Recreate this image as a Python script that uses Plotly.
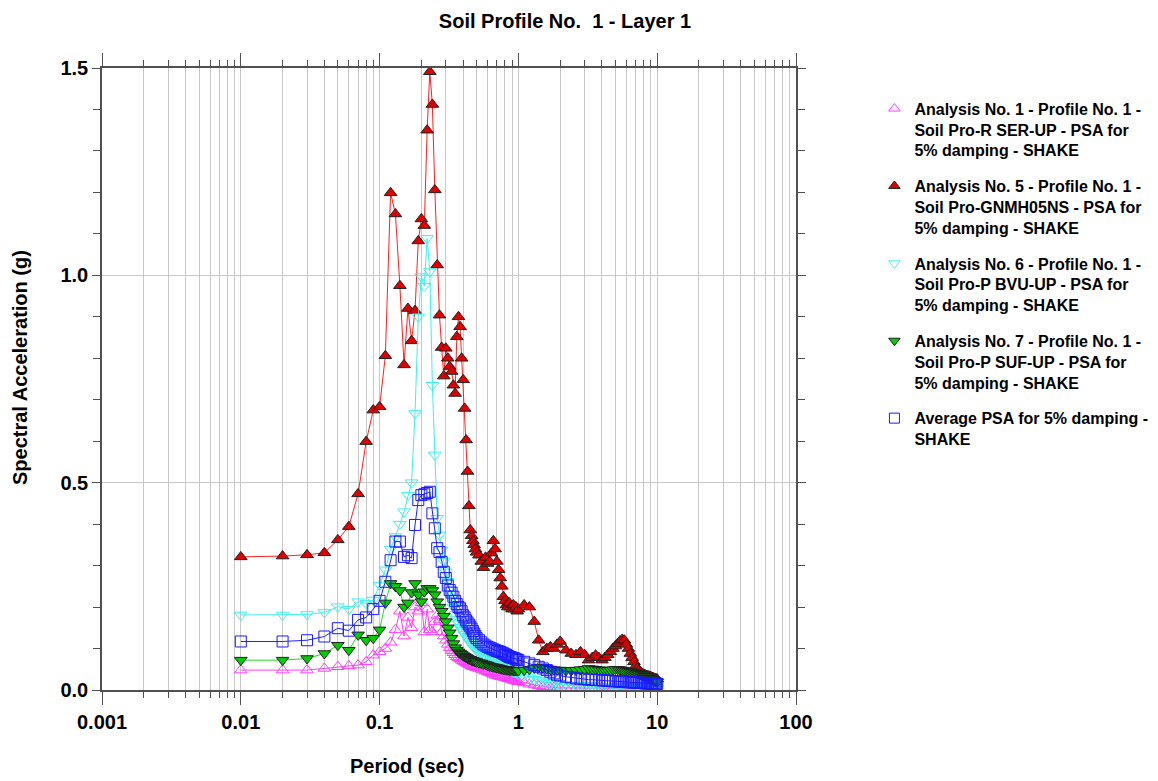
import plotly.graph_objects as go

# ---------------- data ----------------
periods = [
    0.01, 0.02, 0.03, 0.04, 0.05, 0.06, 0.07, 0.08, 0.09, 0.10,
    0.11, 0.12, 0.13, 0.14, 0.15, 0.16, 0.17, 0.18, 0.19, 0.20,
    0.21, 0.22, 0.23, 0.24, 0.25, 0.26, 0.27, 0.28, 0.29, 0.30,
    0.31, 0.32, 0.33, 0.34, 0.35, 0.36, 0.37, 0.38, 0.39, 0.40,
    0.41, 0.42, 0.43, 0.44, 0.45, 0.46, 0.47, 0.48, 0.49, 0.50,
    0.52, 0.54, 0.56, 0.58, 0.60, 0.62, 0.64, 0.66, 0.68, 0.70,
    0.72, 0.74, 0.76, 0.78, 0.80, 0.82, 0.84, 0.86, 0.88, 0.90,
    0.92, 0.94, 0.96, 0.98, 1.00,
    1.1, 1.2, 1.3, 1.4, 1.5, 1.6, 1.7, 1.8, 1.9, 2.0,
    2.2, 2.4, 2.6, 2.8, 3.0, 3.2, 3.4, 3.6, 3.8, 4.0,
    4.2, 4.4, 4.6, 4.8, 5.0, 5.2, 5.4, 5.6, 5.8, 6.0,
    6.2, 6.4, 6.6, 6.8, 7.0, 7.2, 7.4, 7.6, 7.8, 8.0,
    8.2, 8.4, 8.6, 8.8, 9.0, 9.2, 9.4, 9.6, 9.8, 10.0,
]

psa_analysis1 = [
    0.048, 0.048, 0.048, 0.052, 0.056, 0.058, 0.060, 0.068, 0.084, 0.092,
    0.100, 0.115, 0.145, 0.190, 0.130, 0.175, 0.150, 0.200, 0.190, 0.210,
    0.140, 0.195, 0.145, 0.140, 0.165, 0.180, 0.170, 0.140, 0.130, 0.120,
    0.110, 0.102, 0.095, 0.090, 0.085, 0.080, 0.078, 0.075, 0.072, 0.070,
    0.068, 0.066, 0.064, 0.062, 0.060, 0.058, 0.057, 0.056, 0.055, 0.054,
    0.052, 0.050, 0.048, 0.046, 0.044, 0.042, 0.040, 0.038, 0.036, 0.035,
    0.034, 0.033, 0.032, 0.031, 0.030, 0.029, 0.028, 0.027, 0.026, 0.025,
    0.024, 0.023, 0.022, 0.021, 0.020,
    0.017, 0.014, 0.012, 0.010, 0.008, 0.007, 0.006, 0.006, 0.005, 0.005,
    0.005, 0.005, 0.005, 0.005, 0.005, 0.005, 0.005, 0.005, 0.005, 0.005,
    0.004, 0.004, 0.004, 0.004, 0.004, 0.004, 0.004, 0.004, 0.004, 0.004,
    0.004, 0.004, 0.004, 0.004, 0.004, 0.003, 0.003, 0.003, 0.003, 0.003,
    0.003, 0.003, 0.003, 0.003, 0.003, 0.003, 0.003, 0.003, 0.003, 0.003,
]

psa_analysis5 = [
    0.321, 0.323, 0.326, 0.331, 0.362, 0.394, 0.473, 0.599, 0.675, 0.683,
    0.806, 1.199, 1.148, 0.975, 0.784, 0.920, 0.842, 0.915, 1.083, 1.136,
    1.120, 1.350, 1.491, 1.412, 1.206, 1.025, 0.904, 0.826, 0.757, 0.824,
    0.800, 0.780, 0.768, 0.735, 0.715, 0.852, 0.900, 0.876, 0.800, 0.748,
    0.679, 0.603, 0.527, 0.444, 0.386, 0.372, 0.360, 0.350, 0.340, 0.332,
    0.325, 0.310, 0.295, 0.320, 0.305, 0.310, 0.330, 0.360, 0.340, 0.310,
    0.290, 0.270, 0.250, 0.225, 0.215, 0.205, 0.200, 0.210, 0.200, 0.195,
    0.205, 0.195, 0.200, 0.190, 0.195,
    0.205, 0.200, 0.165, 0.120, 0.092, 0.100, 0.104, 0.100, 0.110, 0.117,
    0.096, 0.088, 0.085, 0.092, 0.085, 0.072, 0.078, 0.084, 0.078, 0.072,
    0.078, 0.085, 0.092, 0.100, 0.106, 0.112, 0.118, 0.122, 0.120, 0.110,
    0.100, 0.088, 0.078, 0.068, 0.058, 0.052, 0.047, 0.043, 0.040, 0.038,
    0.036, 0.035, 0.034, 0.033, 0.032, 0.030, 0.029, 0.028, 0.027, 0.026,
]

psa_analysis6 = [
    0.181, 0.181, 0.182, 0.187, 0.201, 0.195, 0.213, 0.209, 0.217, 0.253,
    0.290, 0.340, 0.370, 0.400, 0.430, 0.470, 0.500, 0.667, 0.900, 0.997,
    0.974, 1.089, 1.009, 0.735, 0.567, 0.414, 0.374, 0.338, 0.310, 0.285,
    0.262, 0.240, 0.220, 0.200, 0.182, 0.170, 0.160, 0.151, 0.145, 0.140,
    0.134, 0.129, 0.124, 0.119, 0.114, 0.110, 0.106, 0.102, 0.099, 0.096,
    0.092, 0.088, 0.085, 0.082, 0.080, 0.077, 0.074, 0.071, 0.068, 0.066,
    0.063, 0.061, 0.058, 0.056, 0.054, 0.052, 0.050, 0.049, 0.047, 0.045,
    0.044, 0.043, 0.042, 0.041, 0.040,
    0.035, 0.030, 0.026, 0.023, 0.020, 0.018, 0.016, 0.015, 0.014, 0.013,
    0.012, 0.012, 0.011, 0.011, 0.010, 0.010, 0.010, 0.009, 0.009, 0.009,
    0.009, 0.008, 0.008, 0.008, 0.008, 0.008, 0.008, 0.007, 0.007, 0.007,
    0.007, 0.007, 0.007, 0.007, 0.006, 0.006, 0.006, 0.006, 0.006, 0.006,
    0.006, 0.006, 0.006, 0.006, 0.006, 0.006, 0.006, 0.005, 0.005, 0.005,
]

psa_analysis7 = [
    0.072, 0.072, 0.076, 0.088, 0.108, 0.096, 0.133, 0.120, 0.125, 0.145,
    0.210, 0.257, 0.250, 0.240, 0.200, 0.210, 0.235, 0.257, 0.230, 0.213,
    0.237, 0.245, 0.245, 0.240, 0.230, 0.213, 0.200, 0.190, 0.178, 0.165,
    0.150, 0.138, 0.125, 0.112, 0.102, 0.096, 0.092, 0.089, 0.086, 0.083,
    0.081, 0.079, 0.077, 0.075, 0.074, 0.072, 0.071, 0.070, 0.069, 0.068,
    0.066, 0.065, 0.063, 0.062, 0.060, 0.058, 0.057, 0.056, 0.055, 0.054,
    0.053, 0.052, 0.051, 0.050, 0.050, 0.049, 0.049, 0.048, 0.048, 0.048,
    0.047, 0.047, 0.047, 0.047, 0.047,
    0.048, 0.050, 0.053, 0.055, 0.054, 0.052, 0.050, 0.049, 0.048, 0.048,
    0.047, 0.047, 0.048, 0.049, 0.050, 0.052, 0.051, 0.050, 0.049, 0.048,
    0.047, 0.047, 0.048, 0.049, 0.050, 0.050, 0.049, 0.048, 0.047, 0.046,
    0.045, 0.044, 0.043, 0.042, 0.041, 0.040, 0.039, 0.038, 0.036, 0.035,
    0.033, 0.032, 0.030, 0.028, 0.027, 0.025, 0.024, 0.022, 0.021, 0.020,
]

psa_average = [
    0.117, 0.117, 0.120, 0.129, 0.149, 0.143, 0.169, 0.175, 0.195, 0.215,
    0.261, 0.313, 0.358, 0.358, 0.321, 0.325, 0.318, 0.398, 0.458, 0.470,
    0.472, 0.475, 0.478, 0.426, 0.390, 0.342, 0.333, 0.309, 0.285, 0.270,
    0.252, 0.241, 0.235, 0.225, 0.215, 0.207, 0.200, 0.197, 0.190, 0.180,
    0.175, 0.168, 0.163, 0.158, 0.153, 0.148, 0.142, 0.136, 0.130, 0.125,
    0.120, 0.115, 0.110, 0.107, 0.104, 0.102, 0.100, 0.098, 0.096, 0.094,
    0.093, 0.092, 0.090, 0.088, 0.086, 0.084, 0.082, 0.080, 0.079, 0.078,
    0.077, 0.076, 0.074, 0.073, 0.072,
    0.068, 0.064, 0.060, 0.056, 0.052, 0.048, 0.044, 0.040, 0.037, 0.035,
    0.032, 0.030, 0.028, 0.027, 0.026, 0.025, 0.025, 0.024, 0.024, 0.023,
    0.023, 0.022, 0.022, 0.021, 0.021, 0.021, 0.020, 0.020, 0.020, 0.019,
    0.019, 0.019, 0.018, 0.018, 0.018, 0.018, 0.017, 0.017, 0.017, 0.017,
    0.016, 0.016, 0.016, 0.016, 0.016, 0.015, 0.015, 0.015, 0.015, 0.015,
]

series_names = [
    "Analysis No. 1 - Profile No. 1 -<br>Soil Pro-R SER-UP - PSA for<br>5% damping - SHAKE",
    "Analysis No. 5 - Profile No. 1 -<br>Soil Pro-GNMH05NS - PSA for<br>5% damping - SHAKE",
    "Analysis No. 6 - Profile No. 1 -<br>Soil Pro-P BVU-UP - PSA for<br>5% damping - SHAKE",
    "Analysis No. 7 - Profile No. 1 -<br>Soil Pro-P SUF-UP - PSA for<br>5% damping - SHAKE",
    "Average PSA for 5% damping -<br>SHAKE",
]
series_values = [psa_analysis1, psa_analysis5, psa_analysis6, psa_analysis7, psa_average]

x_tick_vals = [0.001, 0.01, 0.1, 1, 10, 100]
x_tick_text = ["0.001", "0.01", "0.1", "1", "10", "100"]
y_tick_vals = [0.0, 0.5, 1.0, 1.5]
y_tick_text = ["0.0", "0.5", "1.0", "1.5"]

# ---------------- styles ----------------
styles = [
    dict(symbol="triangle-up-open", color="#ff3cff", lcolor="#ff3cff", size=11, lw=1),
    dict(symbol="triangle-up", color="#e00000", lcolor="#202020", size=11, lw=1),
    dict(symbol="triangle-down-open", color="#3cf0f0", lcolor="#3cf0f0", size=11, lw=1),
    dict(symbol="triangle-down", color="#00cc00", lcolor="#202020", size=11, lw=1),
    dict(symbol="square-open", color="#1a1aff", lcolor="#1a1aff", size=11, lw=1),
]
line_colors = ["#ff3cff", "#ff2020", "#3cf0f0", "#20dd20", "#2020ff"]

fig = go.Figure()
for i, (name, vals, st) in enumerate(zip(series_names, series_values, styles)):
    assert len(vals) == len(periods)
    fig.add_trace(go.Scatter(
        x=periods, y=vals, mode="lines+markers", showlegend=False,
        line=dict(color=line_colors[i], width=1),
        marker=dict(symbol=st["symbol"], size=st["size"], color=st["color"],
                    line=dict(color=st["lcolor"], width=st["lw"])),
        hoverinfo="skip",
    ))
for i, (name, st) in enumerate(zip(series_names, styles)):
    fig.add_trace(go.Scatter(
        x=[None], y=[None], mode="markers", name=name, legendgroup=f"g{i}",
        marker=dict(symbol=st["symbol"], size=10, color=st["color"],
                    line=dict(color=st["lcolor"], width=st["lw"])),
    ))

minor_x = []
for d in [0.001, 0.01, 0.1, 1, 10]:
    for k in range(2, 10):
        minor_x.append(d * k)
minor_y = [k / 10 for k in range(0, 16)]

font_family = "Liberation Sans, Arial, sans-serif"
axis_col = "#505050"
grid_col = "#c8c8c8"

fig.update_layout(
    width=1158, height=781, autosize=False,
    margin=dict(l=102, r=362, t=68, b=91, autoexpand=False),
    paper_bgcolor="white", plot_bgcolor="white",
    font=dict(family=font_family, color="black"),
    title=dict(text="Soil Profile No.  1 - Layer 1", x=565 / 1158, xref="container",
               xanchor="center", y=1 - 21 / 781, yref="container", yanchor="middle",
               font=dict(size=20, weight="bold", family=font_family)),
    xaxis=dict(
        type="log", range=[-3, 2], tickmode="array", tickvals=x_tick_vals, ticktext=x_tick_text,
        ticks="outside", ticklen=13, tickcolor=axis_col, tickwidth=1,
        showline=True, linecolor=axis_col, linewidth=1.5, mirror="allticks",
        showgrid=True, gridcolor=grid_col, gridwidth=1,
        tickfont=dict(size=20, weight="bold"),
        minor=dict(tickmode="array", tickvals=minor_x, ticks="outside", ticklen=6,
                   tickcolor=axis_col, showgrid=True, gridcolor=grid_col, gridwidth=1),
        zeroline=False,
    ),
    yaxis=dict(
        range=[0, 1.5], tickmode="array", tickvals=y_tick_vals, ticktext=y_tick_text,
        ticks="outside", ticklen=8, tickcolor=axis_col,
        showline=True, linecolor=axis_col, linewidth=1.5, mirror="allticks",
        showgrid=True, gridcolor=grid_col, gridwidth=1,
        tickfont=dict(size=20, weight="bold"),
        minor=dict(tickmode="array", tickvals=minor_y, ticks="outside", ticklen=7,
                   tickcolor=axis_col, showgrid=False),
        zeroline=False,
    ),
    legend=dict(
        x=1.113, xanchor="left", y=0.962, yanchor="top",
        font=dict(size=16, weight="bold", family=font_family),
        valign="top", tracegroupgap=12, bgcolor="rgba(0,0,0,0)",
        itemclick=False,
    ),
    annotations=[
        dict(text="Period (sec)", xref="paper", yref="paper",
             x=(407 - 102) / 694, y=(690 - 766) / 622, xanchor="center", yanchor="middle",
             showarrow=False, font=dict(size=20, weight="bold")),
        dict(text="Spectral Acceleration (g)", xref="paper", yref="paper",
             x=(20 - 102) / 694, y=(690 - 368) / 622, xanchor="center", yanchor="middle",
             textangle=-90, showarrow=False, font=dict(size=20, weight="bold")),
    ],
)

fig.write_html("out.html")
